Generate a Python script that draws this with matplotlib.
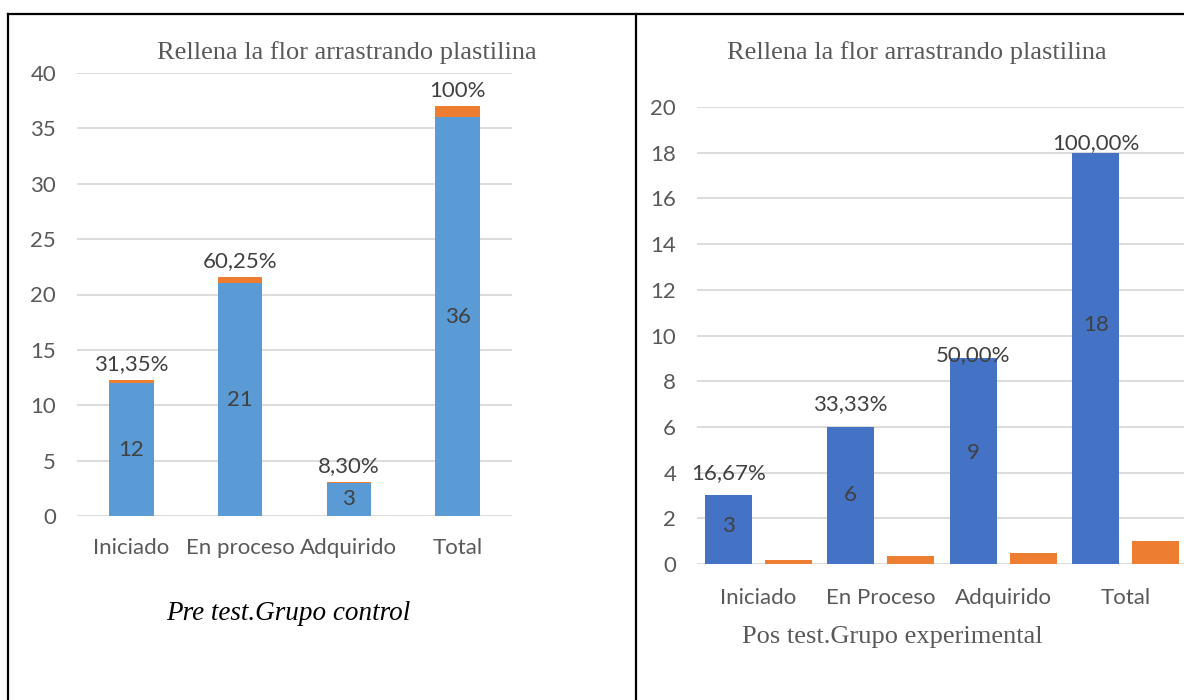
import matplotlib
matplotlib.use("Agg")
import matplotlib.pyplot as plt
from matplotlib.lines import Line2D

# ---- data ----
title = "Rellena la flor arrastrando plastilina"
left_categories = ["Iniciado", "En proceso", "Adquirido", "Total"]
left_counts = [12, 21, 3, 36]
left_fraction = [0.3135, 0.6025, 0.083, 1.0]
left_pct_labels = ["31,35%", "60,25%", "8,30%", "100%"]
left_caption = "Pre test.Grupo control"

right_categories = ["Iniciado", "En Proceso", "Adquirido", "Total"]
right_counts = [3, 6, 9, 18]
right_fraction = [0.1667, 0.3333, 0.5, 1.0]
right_pct_labels = ["16,67%", "33,33%", "50,00%", "100,00%"]
right_caption = "Pos test.Grupo experimental"

# ---- style ----
W, H = 1184, 700
BLUE_L = "#5B9BD5"
BLUE_R = "#4472C4"
ORANGE = "#ED7D31"
GRID = "#D9D9D9"
TICK_C = "#595959"
LABEL_C = "#404040"
SANS = ["Lato", "DejaVu Sans"]
SERIF = ["Liberation Serif", "DejaVu Serif"]
FS = 16

fig = plt.figure(figsize=(W / 100, H / 100), dpi=100)
fig.patch.set_facecolor("white")


def px_axes(x0, y_top, x1, y_bot):
    return fig.add_axes([x0 / W, (H - y_bot) / H, (x1 - x0) / W, (y_bot - y_top) / H])


def style_axes(ax, ymax, ystep, cats, xpad):
    ax.set_ylim(0, ymax)
    ax.set_xlim(-0.5, 3.5)
    ax.set_yticks(range(0, ymax + 1, ystep))
    ax.set_xticks(range(len(cats)))
    ax.set_xticklabels(cats)
    for s in ax.spines.values():
        s.set_visible(False)
    ax.yaxis.grid(True, color=GRID, linewidth=1.3)
    ax.set_axisbelow(True)
    ax.tick_params(axis="both", length=0, labelsize=FS, labelcolor=TICK_C)
    ax.tick_params(axis="y", pad=15)
    ax.tick_params(axis="x", pad=xpad)
    for lab in ax.get_xticklabels() + ax.get_yticklabels():
        lab.set_family(SANS)


# ---- left chart: stacked ----
axL = px_axes(77, 73, 512, 516)
style_axes(axL, 40, 5, left_categories, 16)
xs = range(len(left_categories))
axL.bar(xs, left_counts, width=0.41, color=BLUE_L, zorder=2)
axL.bar(xs, left_fraction, width=0.41, bottom=left_counts, color=ORANGE, zorder=2)
for i, (c, f) in enumerate(zip(left_counts, left_fraction)):
    axL.text(i, c / 2, str(c), ha="center", va="center", fontsize=FS,
             color=LABEL_C, family=SANS)
    axL.annotate(left_pct_labels[i], (i, c + f), xytext=(0, 4),
                 textcoords="offset points", ha="center", va="bottom",
                 fontsize=FS, color=LABEL_C, family=SANS)

# ---- right chart: grouped ----
axR = px_axes(697, 107, 1187, 564)
style_axes(axR, 20, 2, right_categories, 17)
off = 0.245
bw = 0.385
xr = list(range(len(right_categories)))
axR.bar([x - off for x in xr], right_counts, width=bw, color=BLUE_R, zorder=2)
axR.bar([x + off for x in xr], right_fraction, width=bw, color=ORANGE, zorder=2)
pct_offsets = [9, 9, -5, 0]      # label offsets in points (style)
count_offsets = [3, 0, 6, 24]    # inner label offsets in points (style)
for i, c in enumerate(right_counts):
    axR.annotate(str(c), (i - off, c / 2), xytext=(0, count_offsets[i]),
                 textcoords="offset points", ha="center", va="center",
                 fontsize=FS, color=LABEL_C, family=SANS)
    axR.annotate(right_pct_labels[i], (i - off, c), xytext=(0, pct_offsets[i]),
                 textcoords="offset points", ha="center", va="bottom",
                 fontsize=FS, color=LABEL_C, family=SANS)

# ---- titles & captions ----
fig.text(347 / W, 1 - 53 / H, title, ha="center", va="center", fontsize=19,
         color=TICK_C, family=SERIF)
fig.text(917 / W, 1 - 53 / H, title, ha="center", va="center", fontsize=19,
         color=TICK_C, family=SERIF)
fig.text(288 / W, 1 - 613 / H, left_caption, ha="center", va="center",
         fontsize=19.5, color="black", style="italic", family=SERIF)
fig.text(892 / W, 1 - 637 / H, right_caption, ha="center", va="center",
         fontsize=19, color=TICK_C, family=SERIF)

# ---- table frame ----
lw = 1.6
fig.add_artist(Line2D([8 / W, 1], [1 - 14 / H, 1 - 14 / H], color="black", lw=lw))
fig.add_artist(Line2D([8 / W, 8 / W], [0, 1 - 14 / H], color="black", lw=lw))
fig.add_artist(Line2D([636 / W, 636 / W], [0, 1 - 14 / H], color="black", lw=lw))

fig.savefig("out.png", dpi=100, facecolor="white")
